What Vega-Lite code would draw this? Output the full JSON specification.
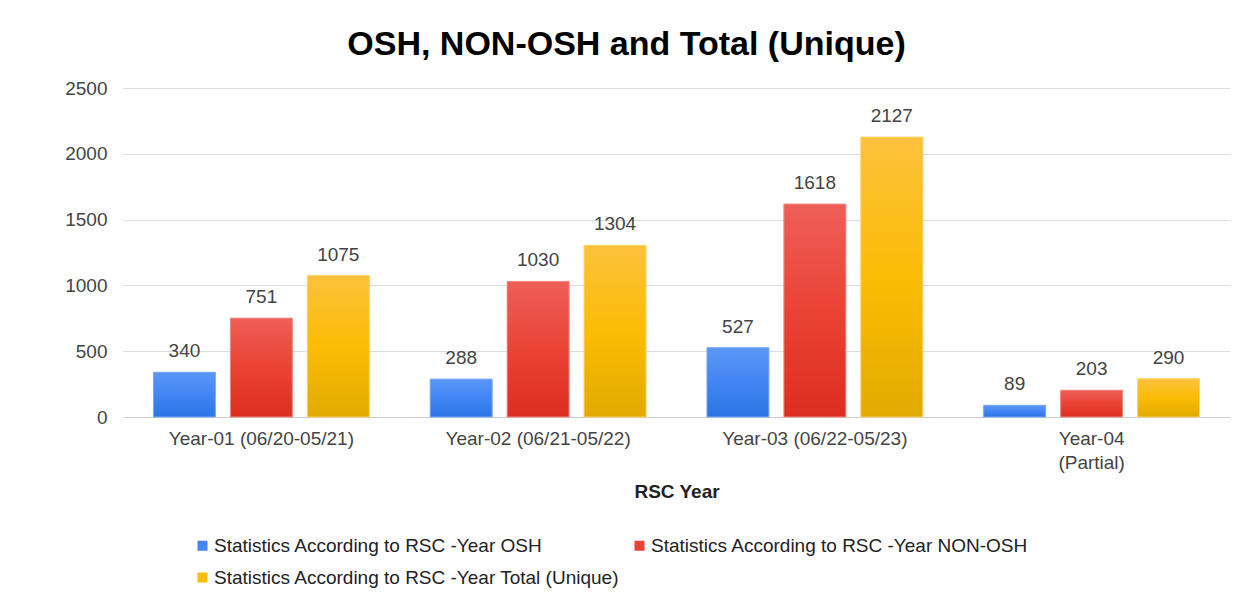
{
  "$schema": "https://vega.github.io/schema/vega-lite/v6.json",
  "width": 1107,
  "height": 329,
  "autosize": {"type": "none"},
  "padding": {"left": 123, "top": 88, "right": 19, "bottom": 188},
  "background": "white",
  "config": {"view": {"stroke": null}},
  "title": {
    "text": "OSH, NON-OSH and Total (Unique)",
    "font": "Liberation Sans",
    "fontSize": 34,
    "fontWeight": "bold",
    "color": "#000000",
    "anchor": "middle",
    "frame": "group",
    "dx": -50,
    "offset": 17
  },
  "data": {
    "values": [
      {"year": "Year-01 (06/20-05/21)", "series": "Statistics According to RSC -Year OSH", "value": 340},
      {"year": "Year-01 (06/20-05/21)", "series": "Statistics According to RSC -Year NON-OSH", "value": 751},
      {"year": "Year-01 (06/20-05/21)", "series": "Statistics According to RSC -Year Total (Unique)", "value": 1075},
      {"year": "Year-02 (06/21-05/22)", "series": "Statistics According to RSC -Year OSH", "value": 288},
      {"year": "Year-02 (06/21-05/22)", "series": "Statistics According to RSC -Year NON-OSH", "value": 1030},
      {"year": "Year-02 (06/21-05/22)", "series": "Statistics According to RSC -Year Total (Unique)", "value": 1304},
      {"year": "Year-03 (06/22-05/23)", "series": "Statistics According to RSC -Year OSH", "value": 527},
      {"year": "Year-03 (06/22-05/23)", "series": "Statistics According to RSC -Year NON-OSH", "value": 1618},
      {"year": "Year-03 (06/22-05/23)", "series": "Statistics According to RSC -Year Total (Unique)", "value": 2127},
      {"year": "Year-04 (Partial)", "series": "Statistics According to RSC -Year OSH", "value": 89},
      {"year": "Year-04 (Partial)", "series": "Statistics According to RSC -Year NON-OSH", "value": 203},
      {"year": "Year-04 (Partial)", "series": "Statistics According to RSC -Year Total (Unique)", "value": 290}
    ]
  },
  "encoding": {
    "x": {
      "field": "year",
      "type": "nominal",
      "sort": null,
      "scale": {"paddingInner": 0, "paddingOuter": 0},
      "axis": {
        "title": "RSC Year",
        "titleFont": "Liberation Sans",
        "titleFontSize": 19,
        "titleFontWeight": "bold",
        "titleColor": "#222222",
        "titlePadding": 10,
        "labelFont": "Liberation Sans",
        "labelFontSize": 19,
        "labelColor": "#444444",
        "labelAngle": 0,
        "labelPadding": 12,
        "labelLineHeight": 24,
        "labelLimit": 0,
        "labelExpr": "datum.value == 'Year-04 (Partial)' ? ['Year-04', '(Partial)'] : datum.value",
        "ticks": false,
        "domain": true,
        "domainColor": "#cccccc"
      }
    },
    "xOffset": {
      "field": "series",
      "type": "nominal",
      "sort": ["Statistics According to RSC -Year OSH", "Statistics According to RSC -Year NON-OSH", "Statistics According to RSC -Year Total (Unique)"],
      "scale": {
        "domain": ["Statistics According to RSC -Year OSH", "Statistics According to RSC -Year NON-OSH", "Statistics According to RSC -Year Total (Unique)"],
        "paddingInner": 0.195, "paddingOuter": 0.396
      }
    },
    "y": {
      "field": "value",
      "type": "quantitative",
      "scale": {"domain": [0, 2500], "nice": false},
      "axis": {
        "title": null,
        "values": [0, 500, 1000, 1500, 2000, 2500],
        "format": "d",
        "labelFont": "Liberation Sans",
        "labelFontSize": 19,
        "labelColor": "#444444",
        "labelPadding": 16,
        "ticks": false,
        "domain": false,
        "gridColor": "#dddddd",
        "gridWidth": 1
      }
    }
  },
  "layer": [
    {
      "mark": {"type": "bar"},
      "encoding": {
        "color": {
          "field": "series",
          "type": "nominal",
          "scale": {
            "domain": ["Statistics According to RSC -Year OSH", "Statistics According to RSC -Year NON-OSH", "Statistics According to RSC -Year Total (Unique)"],
            "range": ["#4285f4", "#ea4335", "#fbbc04"]
          },
          "legend": {
            "title": null,
            "orient": "none",
            "legendX": 70,
            "legendY": 448,
            "direction": "horizontal",
            "columns": 2,
            "columnPadding": 10,
            "rowPadding": 12,
            "symbolType": "square",
            "symbolSize": 100,
            "symbolStrokeWidth": 0,
            "labelFont": "Liberation Sans",
            "labelFontSize": 19,
            "labelColor": "#222222",
            "labelOffset": 2,
            "labelLimit": 0
          }
        }
      }
    },
    {
      "transform": [{"filter": "datum.series == 'Statistics According to RSC -Year OSH'"}],
      "mark": {
        "type": "bar",
        "stroke": "#7eaaf5", "strokeWidth": 1,
        "color": {"gradient": "linear", "x1": 0, "y1": 0, "x2": 0, "y2": 1, "stops": [{"offset": 0, "color": "#5c97f6"}, {"offset": 0.5, "color": "#4285f4"}, {"offset": 1, "color": "#2b74e4"}]}
      }
    },
    {
      "transform": [{"filter": "datum.series == 'Statistics According to RSC -Year NON-OSH'"}],
      "mark": {
        "type": "bar",
        "stroke": "#f08a80", "strokeWidth": 1,
        "color": {"gradient": "linear", "x1": 0, "y1": 0, "x2": 0, "y2": 1, "stops": [{"offset": 0, "color": "#ee5f58"}, {"offset": 0.5, "color": "#ea4335"}, {"offset": 1, "color": "#dc2e20"}]}
      }
    },
    {
      "transform": [{"filter": "datum.series == 'Statistics According to RSC -Year Total (Unique)'"}],
      "mark": {
        "type": "bar",
        "stroke": "#fdd36a", "strokeWidth": 1,
        "color": {"gradient": "linear", "x1": 0, "y1": 0, "x2": 0, "y2": 1, "stops": [{"offset": 0, "color": "#fcc13c"}, {"offset": 0.5, "color": "#fbbc04"}, {"offset": 1, "color": "#e2aa00"}]}
      }
    },
    {
      "mark": {"type": "text", "baseline": "bottom", "dy": -11, "font": "Liberation Sans", "fontSize": 19, "color": "#444444"},
      "encoding": {
        "text": {"field": "value", "type": "quantitative"}
      }
    }
  ]
}
